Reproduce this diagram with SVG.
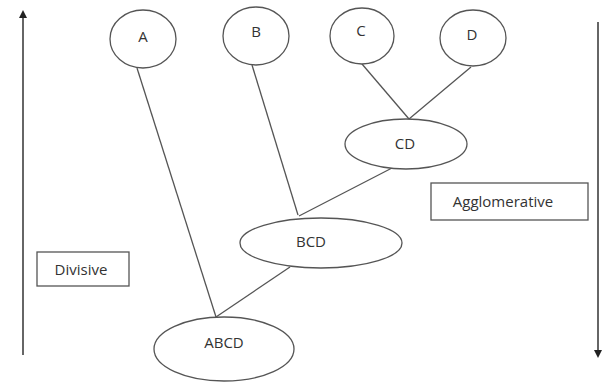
<svg xmlns="http://www.w3.org/2000/svg" width="605" height="383" viewBox="0 0 605 383">
<style>
.n{fill:#fff;stroke:#555;stroke-width:1.3}
.t{font-family:"Open Sans","Liberation Sans",sans-serif;font-size:15px;fill:#333;text-anchor:middle;dominant-baseline:central}
.c{stroke:#555;stroke-width:1.3;fill:none}
.ax{stroke:#666;stroke-width:2;fill:none}
.b{fill:#fff;stroke:#555;stroke-width:1.3}
</style>
<defs>
<marker id="ah" viewBox="0 0 10 10" refX="5" refY="5" markerWidth="4" markerHeight="4" orient="auto-start-reverse" markerUnits="strokeWidth">
<path d="M0,0 L10,5 L0,10 z" fill="#222"/>
</marker>
</defs>
<rect width="605" height="383" fill="#fff"/>
<g id="connectors">
<line class="c" x1="137" y1="68" x2="216" y2="317"/>
<line class="c" x1="252" y1="65" x2="298" y2="215"/>
<line class="c" x1="362" y1="64" x2="409" y2="119"/>
<line class="c" x1="471" y1="67" x2="409" y2="119"/>
<line class="c" x1="392" y1="168" x2="299" y2="216"/>
<line class="c" x1="290" y1="267" x2="216" y2="317"/>
</g>
<g id="axes">
<line class="ax" x1="23" y1="355" x2="23" y2="14" marker-end="url(#ah)"/>
<line class="ax" x1="598" y1="22" x2="598" y2="354" marker-end="url(#ah)"/>
</g>
<g id="A"><ellipse class="n" cx="143" cy="39" rx="33" ry="29"/><text class="t" x="143" y="36">A</text></g>
<g id="B"><ellipse class="n" cx="256" cy="36" rx="33" ry="29"/><text class="t" x="256" y="31">B</text></g>
<g id="C"><ellipse class="n" cx="362" cy="36" rx="32" ry="28"/><text class="t" x="361" y="30">C</text></g>
<g id="D"><ellipse class="n" cx="473" cy="38" rx="33" ry="28"/><text class="t" x="472" y="34">D</text></g>
<g id="CD"><ellipse class="n" cx="406" cy="144" rx="61" ry="25"/><text class="t" x="405" y="143">CD</text></g>
<g id="BCD"><ellipse class="n" cx="321" cy="243" rx="81" ry="25"/><text class="t" x="311" y="241">BCD</text></g>
<g id="ABCD"><ellipse class="n" cx="224" cy="349" rx="70" ry="32"/><text class="t" x="224" y="342">ABCD</text></g>
<g id="Divisive"><rect class="b" x="37" y="252" width="92" height="34"/><text class="t" x="81" y="269">Divisive</text></g>
<g id="Agglomerative"><rect class="b" x="431" y="183" width="157" height="37"/><text class="t" x="503" y="201">Agglomerative</text></g>
</svg>
